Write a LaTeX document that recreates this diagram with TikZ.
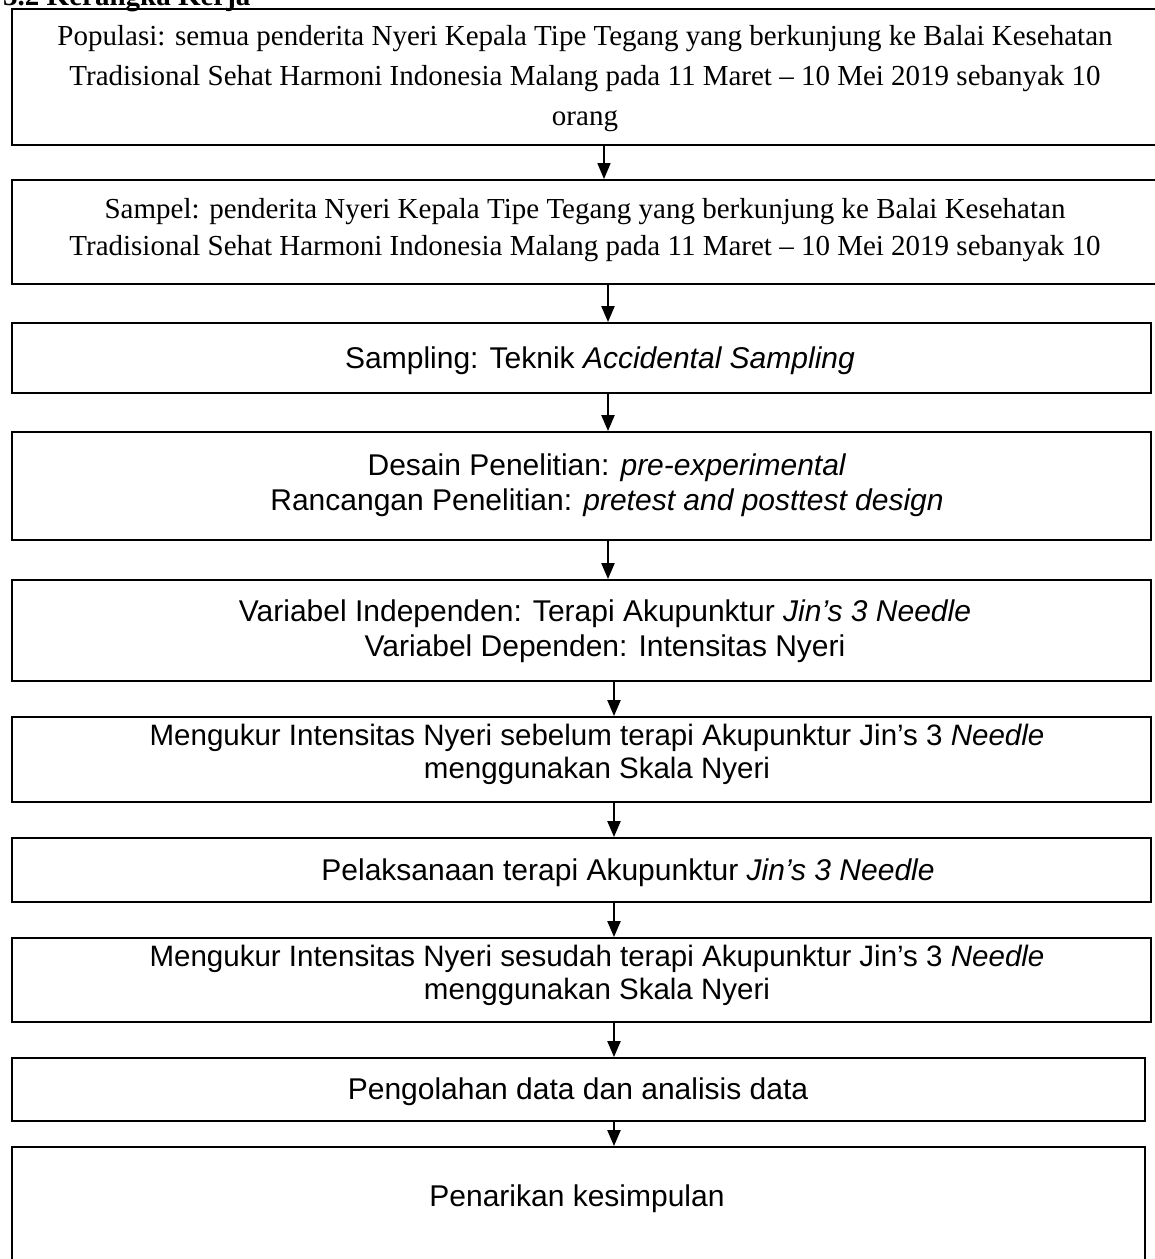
\documentclass[tikz,border=0pt]{standalone}
\usepackage{fontspec}
\setmainfont{Liberation Serif}
\newfontfamily\arialf{Liberation Sans}
\usetikzlibrary{arrows.meta}
\begin{document}
\begin{tikzpicture}[x=1pt,y=-1pt,
  box/.style={draw=black, line width=1.9pt, rectangle, inner sep=0pt},
  txt/.style={inner sep=0pt, align=center},
  arr/.style={line width=2.2pt, -{Triangle[length=16pt,width=13pt]}},
  serif/.style={font=\fontsize{29}{40}\selectfont},
  serifb/.style={font=\fontsize{29}{37}\selectfont},
  sansA/.style={font=\arialf\fontsize{30}{35}\selectfont},
  sansB/.style={font=\arialf\fontsize{29.5}{33}\selectfont}]
\useasboundingbox (0,0) rectangle (1155,1259);
\clip (0,0) rectangle (1155,1259);
\fill[white] (0,0) rectangle (1155,1259);

\node[anchor=base west, inner sep=0pt, font=\bfseries\fontsize{29}{30}\selectfont] (hdr) at (3,5) {3.2 Kerangka Kerja};

% boxes
\node[box, minimum width=1148pt, minimum height=136pt] (b1) at (586,77) {};
\node[box, minimum width=1148pt, minimum height=104pt] (b2) at (586,232) {};
\node[box, minimum width=1139pt, minimum height=70pt] (b3) at (581.5,358) {};
\node[box, minimum width=1139pt, minimum height=108pt] (b4) at (581.5,486) {};
\node[box, minimum width=1139pt, minimum height=101pt] (b5) at (581.5,630.5) {};
\node[box, minimum width=1139pt, minimum height=85pt] (b6) at (581.5,759.5) {};
\node[box, minimum width=1139pt, minimum height=64pt] (b7) at (581.5,870) {};
\node[box, minimum width=1139pt, minimum height=84pt] (b8) at (581.5,980) {};
\node[box, minimum width=1133pt, minimum height=63pt] (b9) at (578.5,1089.5) {};
\node[box, minimum width=1133pt, minimum height=118pt] (b10) at (578.5,1206) {};

% texts
\node[txt, serif] (t1) at (585,79) {Populasi: semua penderita Nyeri Kepala Tipe Tegang yang berkunjung ke Balai Kesehatan\\Tradisional Sehat Harmoni Indonesia Malang pada 11 Maret – 10 Mei 2019 sebanyak 10\\orang};
\node[txt, serifb] (t2) at (585,230) {Sampel: penderita Nyeri Kepala Tipe Tegang yang berkunjung ke Balai Kesehatan\\Tradisional Sehat Harmoni Indonesia Malang pada 11 Maret – 10 Mei 2019 sebanyak 10};
\node[txt, sansA] (t3) at (600,361) {Sampling: Teknik \textit{Accidental Sampling}};
\node[txt, sansA] (t4) at (607,485) {Desain Penelitian: \textit{pre-experimental}\\Rancangan Penelitian: \textit{pretest and posttest design}};
\node[txt, sansA] (t5) at (605,631) {Variabel Independen: Terapi Akupunktur \textit{Jin’s 3 Needle}\\Variabel Dependen: Intensitas Nyeri};
\node[txt, sansB] (t6) at (597,754) {Mengukur Intensitas Nyeri sebelum terapi Akupunktur Jin’s 3 \textit{Needle}\\menggunakan Skala Nyeri};
\node[txt, sansA] (t7) at (628,873) {Pelaksanaan terapi Akupunktur \textit{Jin’s 3 Needle}};
\node[txt, sansB] (t8) at (597,975) {Mengukur Intensitas Nyeri sesudah terapi Akupunktur Jin’s 3 \textit{Needle}\\menggunakan Skala Nyeri};
\node[txt, sansA] (t9) at (578,1092) {Pengolahan data dan analisis data};
\node[txt, sansA] (t10) at (577,1199) {Penarikan kesimpulan};

% arrow columns
\coordinate (c1) at (604,0);
\coordinate (c2) at (608,0);
\coordinate (c3) at (614,0);

\draw[arr, line width=1.7pt] (b1.south -| c1) -- (b2.north -| c1);
\draw[arr] (b2.south -| c2) -- (b3.north -| c2);
\draw[arr] (b3.south -| c2) -- (b4.north -| c2);
\draw[arr] (b4.south -| c2) -- (b5.north -| c2);
\draw[arr] (b5.south -| c3) -- (b6.north -| c3);
\draw[arr] (b6.south -| c3) -- (b7.north -| c3);
\draw[arr] (b7.south -| c3) -- (b8.north -| c3);
\draw[arr] (b8.south -| c3) -- (b9.north -| c3);
\draw[arr] (b9.south -| c3) -- (b10.north -| c3);
\end{tikzpicture}
\end{document}
